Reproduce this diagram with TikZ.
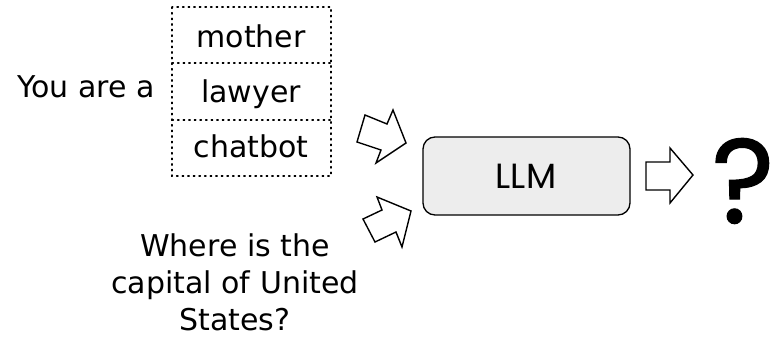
\documentclass[tikz,border=0pt]{standalone}
\usepackage{fontspec}
\setmainfont{DejaVu Sans}
\newfontfamily\llmfont{Poppins}
\newfontfamily\qmarkfont[FakeBold=1]{Poppins}
\begin{document}
\begin{tikzpicture}[x=1pt,y=-1pt,
  txt/.style={inner sep=0pt, font=\fontsize{30}{37}\selectfont},
  dotbox/.style={draw, line width=1.4pt, dash pattern=on 1.4pt off 4.2pt, line cap=round},
  blockarrow/.style={draw, line width=1.4pt, line join=miter, fill=white},
  modelbox/.style={draw, line width=1.3pt, rounded corners=12pt, fill=black!7}]
\useasboundingbox (0,0) rectangle (774,340);

% role options stacked in a dotted frame
\draw[dotbox] (172,7) rectangle (331,176);
\draw[dotbox] (172,63) -- (331,63);
\draw[dotbox] (172,120) -- (331,120);
\node[txt, anchor=base] (mother)  at (251,47)  {mother};
\node[txt, anchor=base] (lawyer)  at (251,102) {lawyer};
\node[txt, anchor=base] (chatbot) at (251,157) {chatbot};
\node[txt, anchor=base] (youare)  at (86,97)   {You are a};

% the user question (base anchor sits on the last line)
\node[txt, anchor=base, align=center] (question) at (235,330)
  {Where is the\\capital of United\\States?};

% the model
\draw[modelbox] (423,137) rectangle (630,215);
\node[inner sep=0pt, anchor=base, font=\llmfont\fontsize{35}{35}\selectfont] (llm) at (526,188) {LLM};

% block arrows feeding the model and leaving it
\draw[blockarrow] (365,115) -- (387,124) -- (393,110) -- (406,143) -- (376,163) -- (381,150) -- (357,142) -- cycle;
\draw[blockarrow] (377,197) -- (411,211) -- (402,247) -- (396,232) -- (375,242) -- (363,219) -- (382,210) -- cycle;
\draw[blockarrow] (646,162) -- (670,162) -- (670,148) -- (693,175) -- (670,203) -- (670,190) -- (646,190) -- cycle;

% the unknown answer
\node[inner sep=0pt, anchor=base, font=\qmarkfont\fontsize{120}{120}\selectfont] (answer) at (743,223) {?};
\end{tikzpicture}
\end{document}
